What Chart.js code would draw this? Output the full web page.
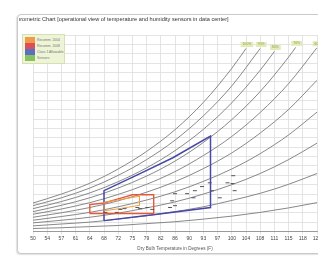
<!DOCTYPE html>
<html lang="en">
<head>
    <meta charset="utf-8">
    <title>Psychrometric Chart</title>
    <script src="https://cdn.jsdelivr.net/npm/chart.js@4.4.1/dist/chart.umd.min.js"></script>
    <style>
        html, body { margin: 0; padding: 0; background: #fff; width: 318px; height: 258px; overflow: hidden; }
        .panel {
            position: absolute; left: 17px; top: 14px; width: 360px; height: 238px;
            border: 1px solid #cacaca; border-radius: 4px; background: #fff;
            box-shadow: -1px 1px 1px #e2e2e2;
        }
        .title {
            position: absolute; left: 1px; top: 1px; width: 340px; height: 7px;
            overflow: hidden; white-space: nowrap;
            font: 5.6px "Liberation Sans", Arial, sans-serif; color: #333;
        }
        .title span { margin-left: -14px; }
        #chart { position: absolute; left: 0; top: 0; }
        .legend {
            position: absolute; left: 4px; top: 19px; width: 41px; height: 28px;
            background: #eef4d6; border: 1px solid #d6e0b4;
        }
        .legend div { position: relative; height: 6px; font: 3.4px "Liberation Sans", Arial, sans-serif; color: #777; line-height: 6px; padding-left: 14px; white-space: nowrap; }
        .legend i { position: absolute; left: 2px; top: 0; width: 10px; height: 6px; }
        .legend div:first-child { margin-top: 2px; }
    </style>
</head>
<body>
<div class="panel">
    <canvas id="chart" width="340" height="238"></canvas>
    <div class="title"><span>Psychrometric Chart [operational view of temperature and humidity sensors in data center]</span></div>
    <div class="legend">
        <div><i style="background:#f09a4a"></i>Recomm. 2004</div>
        <div><i style="background:#d9505a"></i>Recomm. 2008</div>
        <div><i style="background:#5a6fc0"></i>Class 1 Allowable</div>
        <div><i style="background:#86c060"></i>Sensors</div>
    </div>
</div>

<script>
    // x axis runs in °C (10..50 step 2), ticks shown in °F
    const xTickLabels = ['50','54','57','61','64','68','72','75','79','82','86','90','93','97','100','104','108','111','115','118','122'];

    // relative humidity curves: [dry bulb °C, humidity ratio g/kg]
    const rh100 = [[10,7.6],[14,10.0],[18,12.9],[22,16.7],[26,21.4],[30,27.2],[34,34.5],[38,43.6],[40,48.9]];
    const rh90 = [[10,6.9],[14,9.0],[18,11.6],[22,15.0],[26,19.2],[30,24.4],[34,30.9],[38,38.9],[42,48.9]];
    const rh80 = [[10,6.1],[14,8.0],[18,10.3],[22,13.3],[26,17.0],[30,21.6],[34,27.3],[38,34.4],[42,43.1],[44,48.1]];
    const rh70 = [[10,5.3],[14,7.0],[18,9.0],[22,11.6],[26,14.8],[30,18.8],[34,23.8],[38,29.9],[42,37.4],[46,46.6],[47,49.2]];
    const rh60 = [[10,4.6],[14,6.0],[18,7.7],[22,9.9],[26,12.6],[30,16.0],[34,20.3],[38,25.4],[42,31.8],[46,39.5],[50,49.1]];
    const rh50 = [[10,3.8],[14,5.0],[18,6.4],[22,8.2],[26,10.5],[30,13.3],[34,16.8],[38,21.0],[42,26.3],[46,32.6],[50,40.4]];
    const rh40 = [[10,3.0],[14,4.0],[18,5.1],[22,6.6],[26,8.4],[30,10.6],[34,13.4],[38,16.7],[42,20.8],[46,25.8],[50,31.9]];
    const rh30 = [[10,2.3],[14,3.0],[18,3.8],[22,4.9],[26,6.3],[30,7.9],[34,10.0],[38,12.5],[42,15.5],[46,19.2],[50,23.6]];
    const rh20 = [[10,1.5],[14,2.0],[18,2.5],[22,3.3],[26,4.2],[30,5.3],[34,6.6],[38,8.3],[42,10.2],[46,12.6],[50,15.5]];
    const rh10 = [[10,0.8],[14,1.0],[18,1.3],[22,1.6],[26,2.1],[30,2.6],[34,3.3],[38,4.1],[42,5.1],[46,6.3],[50,7.7]];
    const rhCurves = [rh100, rh90, rh80, rh70, rh60, rh50, rh40, rh30, rh20, rh10];
    const rhNames = ['100%','90%','80%','70%','60%','50%','40%','30%','20%','10%'];

    // envelopes
    const recommended2004 = [[20,5.5],[20,7.8],[22.5,8.6],[25,9.4],[25,7.0],[22.5,6.2],[20,5.5]];
    const recommended2008 = [[18,4.8],[18,7.2],[20,7.6],[22.5,9.0],[24,9.8],[27,9.8],[27,4.8],[18,4.8]];
    const allowable = [[20,2.9],[20,10.9],[25,15.4],[29.7,19.7],[35,25.5],[35,6.4],[27.5,4.6],[20,2.9]];

    // sensor readings
    const sensorTemps = [20.2,21.8,22.3,22.9,24.7,25.1,26.1,26.8,29.3,29.6,30.0,30.0,31.7,32.6,32.8,33.8,34.9,35.2,36.3,37.4,38.2,38.1,38.4];
    const sensorHumidity = [5.1,5.1,5.9,6.1,6.4,6.1,6.4,5.9,6.4,8.2,6.9,10.1,10.1,9.0,10.9,12.0,13.0,10.9,9.0,13.0,14.9,12.8,10.9];

    const toXY = arr => arr.map(p => ({ x: p[0], y: p[1] }));

    const datasets = [];
    datasets.push({
        label: 'Sensors',
        data: sensorTemps.map((t, i) => ({ x: t, y: sensorHumidity[i] })),
        pointStyle: 'line', pointRadius: 2, borderColor: '#555', borderWidth: 1, showLine: false
    });
    datasets.push({ label: 'Recommended 2004', data: toXY(recommended2004), showLine: true, borderColor: '#f0a040', borderWidth: 1, pointRadius: 0 });
    datasets.push({ label: 'Recommended 2008', data: toXY(recommended2008), showLine: true, borderColor: '#e4583c', borderWidth: 1.4, pointRadius: 0 });
    datasets.push({ label: 'Allowable', data: toXY(allowable), showLine: true, borderColor: '#4848a8', borderWidth: 1.5, pointRadius: 0 });
    rhCurves.forEach((c, i) => {
        datasets.push({
            label: rhNames[i], rhLabel: i < 5 ? rhNames[i] : null,
            data: toXY(c), showLine: true, borderColor: '#7a7a7a', borderWidth: 0.9,
            pointRadius: 0, cubicInterpolationMode: 'monotone'
        });
    });

    // little tags at the top end of the humidity curves
    const rhLabelPlugin = {
        id: 'rhLabels',
        afterDatasetsDraw(chart) {
            const ctx = chart.ctx;
            chart.data.datasets.forEach((ds, i) => {
                if (!ds.rhLabel) return;
                const pts = chart.getDatasetMeta(i).data;
                const end = pts[pts.length - 1];
                ctx.save();
                ctx.font = '3.4px "Liberation Sans", Arial, sans-serif';
                const w = ctx.measureText(ds.rhLabel).width + 4;
                const cx = end.x + 1, cy = end.y - 4;
                ctx.fillStyle = '#e3ecb8';
                ctx.fillRect(cx - w / 2, cy - 2.5, w, 5);
                ctx.fillStyle = '#8f9e55';
                ctx.textAlign = 'center';
                ctx.textBaseline = 'middle';
                ctx.fillText(ds.rhLabel, cx, cy);
                ctx.restore();
            });
        }
    };

    new Chart(document.getElementById('chart'), {
        type: 'scatter',
        data: { datasets: datasets },
        plugins: [rhLabelPlugin],
        options: {
            responsive: false,
            animation: false,
            layout: { padding: { left: 15, right: 41, top: 20, bottom: 2 } },
            plugins: { legend: { display: false }, tooltip: { enabled: false } },
            scales: {
                x: {
                    type: 'linear', min: 10, max: 50,
                    ticks: {
                        stepSize: 2, autoSkip: false, maxRotation: 0, padding: 1,
                        font: { size: 5, family: '"Liberation Sans", Arial, sans-serif' }, color: '#444',
                        callback: (v, i) => xTickLabels[i]
                    },
                    grid: { color: '#dddddd', lineWidth: 0.8, tickLength: 3 },
                    border: { color: '#9a9a9a' },
                    title: {
                        display: true, text: 'Dry Bulb Temperature in Degrees (F)',
                        font: { size: 4.6, family: '"Liberation Sans", Arial, sans-serif' }, color: '#555',
                        padding: { top: 3, bottom: 0 }
                    }
                },
                y: {
                    min: 0, max: 52.5,
                    ticks: { display: false, stepSize: 2.5 },
                    grid: { color: '#dddddd', lineWidth: 0.8, drawTicks: false },
                    border: { display: false }
                }
            }
        }
    });
</script>
</body>
</html>
